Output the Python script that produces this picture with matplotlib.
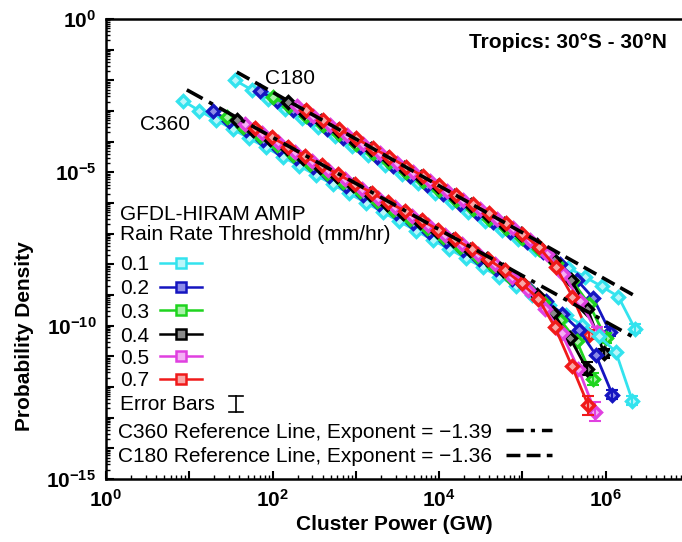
import numpy as np
import matplotlib.pyplot as plt
from matplotlib.lines import Line2D
from matplotlib.ticker import LogLocator, FuncFormatter
from matplotlib.transforms import IdentityTransform

plt.rcParams['font.family'] = ['Liberation Sans', 'DejaVu Sans']
plt.rcParams['mathtext.fontset'] = 'custom'
plt.rcParams['mathtext.rm'] = 'Liberation Sans'
plt.rcParams['mathtext.bf'] = 'Liberation Sans:bold'

thresholds = ['0.1', '0.2', '0.3', '0.4', '0.5', '0.7']
colors = ['#33e3ee', '#1515c0', '#1fd41f', '#000000', '#e040e0', '#f01a1a']
light = ['#b8f6fa', '#8c8ce8', '#a8f0a8', '#8a8a8a', '#f4b0f4', '#f8a8a8']

bin_width = 0.2  # bins are 0.2 decades wide in cluster power

# C180: log10 of first bin (GW) and log10 probability density per bin
c180_start = [1.55, 1.85, 2.00, 2.18, 2.29, 2.40]
c180_01 = [-2.00, -2.31, -2.61, -2.92, -3.22, -3.53, -3.83, -4.14, -4.44, -4.75,
           -5.05, -5.36, -5.66, -5.97, -6.28, -6.58, -6.89, -7.19, -7.50, -7.80,
           -8.11, -8.41, -8.72, -9.05, -10.10]
c180_02 = [-2.36, -2.66, -2.97, -3.27, -3.58, -3.89, -4.19, -4.50, -4.80, -5.11,
           -5.41, -5.72, -6.02, -6.33, -6.63, -6.94, -7.26, -7.60, -8.00, -8.50,
           -9.10, -10.20]
c180_03 = [-2.54, -2.84, -3.15, -3.45, -3.76, -4.06, -4.37, -4.67, -4.98, -5.29,
           -5.59, -5.90, -6.20, -6.51, -6.81, -7.14, -7.50, -7.95, -8.55, -9.30,
           -10.40]
c180_04 = [-2.71, -3.02, -3.32, -3.63, -3.93, -4.24, -4.54, -4.85, -5.16, -5.46,
           -5.77, -6.07, -6.38, -6.68, -7.00, -7.38, -7.85, -8.50, -9.45, -10.90]
c180_05 = [-2.85, -3.16, -3.46, -3.77, -4.07, -4.38, -4.68, -4.99, -5.29, -5.60,
           -5.90, -6.21, -6.51, -6.83, -7.20, -7.65, -8.30, -9.20, -10.20]
c180_07 = [-2.98, -3.28, -3.59, -3.89, -4.20, -4.50, -4.81, -5.12, -5.42, -5.73,
           -6.03, -6.34, -6.66, -7.00, -7.45, -8.08, -9.05, -10.30]
c180_err = [0.15, 0.15, 0.15, 0.15, 0.15, 0.15]

# C360
c360_start = [0.92, 1.28, 1.45, 1.57, 1.67, 1.79]
c360_01 = [-2.66, -2.99, -3.29, -3.59, -3.89, -4.19, -4.49, -4.79, -5.09, -5.39,
           -5.69, -5.99, -6.29, -6.60, -6.90, -7.20, -7.50, -7.80, -8.10, -8.40,
           -8.70, -9.00, -9.32, -9.65, -9.98, -10.35, -10.85, -12.45]
c360_02 = [-3.00, -3.32, -3.63, -3.93, -4.23, -4.53, -4.83, -5.13, -5.43, -5.73,
           -6.03, -6.34, -6.64, -6.94, -7.24, -7.54, -7.84, -8.15, -8.47, -8.82,
           -9.20, -9.62, -10.15, -10.95, -12.25]
c360_03 = [-3.20, -3.51, -3.81, -4.11, -4.42, -4.72, -5.02, -5.32, -5.62, -5.92,
           -6.22, -6.52, -6.82, -7.12, -7.42, -7.74, -8.06, -8.40, -8.78, -9.22,
           -9.80, -10.50, -11.75]
c360_04 = [-3.30, -3.61, -3.91, -4.21, -4.52, -4.82, -5.12, -5.42, -5.72, -6.02,
           -6.32, -6.62, -6.92, -7.22, -7.52, -7.84, -8.18, -8.55, -9.00, -9.60,
           -10.40, -11.40]
c360_05 = [-3.42, -3.72, -4.02, -4.33, -4.63, -4.93, -5.23, -5.53, -5.83, -6.13,
           -6.43, -6.73, -7.03, -7.34, -7.66, -8.00, -8.40, -8.85, -9.45, -10.25,
           -11.40, -12.80]
c360_07 = [-3.56, -3.86, -4.16, -4.47, -4.77, -5.07, -5.37, -5.67, -5.97, -6.27,
           -6.57, -6.87, -7.18, -7.50, -7.84, -8.20, -8.62, -9.12, -10.05, -11.30,
           -12.60]
c360_err = [0.15, 0.15, 0.2, 0.2, 0.3, 0.3]

# reference power-law lines (log10 end points)
c360_ref_lx = [0.97, 6.35]
c360_ref_ly = [-2.31, -10.40]
c180_ref_lx = [1.57, 6.37]
c180_ref_ly = [-1.73, -9.06]

W, H = 682, 542
fig = plt.figure(figsize=(W / 100, H / 100), dpi=100)
ax = fig.add_axes([106 / W, 63 / H, 576 / W, 460 / H])
ax.set_xscale('log')
ax.set_yscale('log')

groups = [(c180_start, [c180_01, c180_02, c180_03, c180_04, c180_05, c180_07], c180_err),
          (c360_start, [c360_01, c360_02, c360_03, c360_04, c360_05, c360_07], c360_err)]
for starts, runs, errs in groups:
    for x0, ly, e, col, lt in zip(starts, runs, errs, colors, light):
        x = 10 ** (x0 + bin_width * np.arange(len(ly)))
        y = 10 ** np.array(ly)
        ax.plot(x, y, '-', color=col, lw=2, marker='D', ms=6.5, mfc=lt, mec=col,
                mew=2.4, zorder=3)
        ax.errorbar(x[-1], y[-1], yerr=[[y[-1] - y[-1] * 10 ** -e], [y[-1] * 10 ** e - y[-1]]],
                    fmt='none', ecolor=col, elinewidth=1.5, capsize=4, capthick=1.5, zorder=3)

ax.plot(10 ** np.array(c360_ref_lx), 10 ** np.array(c360_ref_ly), color='k', lw=2.6,
        ls=(0, (5, 2, 1.2, 2)), zorder=5)
ax.plot(10 ** np.array(c180_ref_lx), 10 ** np.array(c180_ref_ly), color='k', lw=2.6,
        ls=(0, (4, 1.8)), zorder=5)

ax.set_xlim(1, 10 ** 6.915)
ax.set_ylim(1e-15, 1)


def fmt(step):
    def f(v, pos):
        p = int(round(np.log10(v)))
        return r'$\mathbf{10^{%d}}$' % p if p % step == 0 else ''
    return f


for axis, step in [(ax.xaxis, 2), (ax.yaxis, 5)]:
    axis.set_major_locator(LogLocator(base=10, numticks=30))
    axis.set_minor_locator(LogLocator(base=10, subs=np.arange(2, 10), numticks=300))
    axis.set_major_formatter(FuncFormatter(fmt(step)))
ax.tick_params(which='major', direction='in', length=6, width=1.5, labelsize=15, pad=7,
               top=False, right=False)
ax.tick_params(which='minor', direction='in', length=3, width=1, top=False, right=False)
ax.yaxis.set_minor_formatter(FuncFormatter(lambda v, p: ''))
ax.xaxis.set_minor_formatter(FuncFormatter(lambda v, p: ''))
for s in ['left', 'bottom', 'top']:
    ax.spines[s].set_linewidth(1.8)
ax.spines['right'].set_visible(False)

ident = IdentityTransform()


def txt(x, y, s, **kw):
    return fig.text(x, H - y, s, transform=ident, fontsize=15, va='center_baseline', **kw)


txt(394, 522, 'Cluster Power (GW)', ha='center', fontweight='bold')
txt(25, 249, 'Probability Density', ha='center', fontweight='bold', rotation=90)
txt(667, 41, 'Tropics: 30°S - 30°N', ha='right', fontweight='bold')
txt(290, 77, 'C180', ha='center')
txt(165, 123, 'C360', ha='center')

# legend, drawn by hand so each handle follows its text
r = fig.canvas.get_renderer()
txt(120, 213, 'GFDL-HIRAM AMIP')
txt(120, 233, 'Rain Rate Threshold (mm/hr)')
rows = [263, 287, 310, 334, 356, 379]
for yy, lab, col, lt in zip(rows, thresholds, colors, light):
    t = txt(120, yy, lab)
    x1 = t.get_window_extent(renderer=r).x1
    fig.add_artist(Line2D([x1 + 11, x1 + 53], [H - yy, H - yy], transform=ident,
                          color=col, lw=1.8))
    fig.add_artist(Line2D([x1 + 32], [H - yy], transform=ident, marker='s', ms=7,
                          mfc=lt, mec=col, mew=1.8))

t = txt(120, 403, 'Error Bars')
x1 = t.get_window_extent(renderer=r).x1 + 21
fig.add_artist(Line2D([x1, x1], [H - 396, H - 412], transform=ident, color='k', lw=1.2))
for cy in [396, 412]:
    fig.add_artist(Line2D([x1 - 7, x1 + 7], [H - cy, H - cy], transform=ident, color='k', lw=1.2))

for yy, lab, ls in [(430, 'C360 Reference Line, Exponent = \u22121.39', (0, (5, 2, 1.2, 2))),
                    (455, 'C180 Reference Line, Exponent = \u22121.36', (0, (4, 1.8)))]:
    t = txt(118, yy, lab)
    x1 = t.get_window_extent(renderer=r).x1
    fig.add_artist(Line2D([x1 + 14, x1 + 60], [H - yy, H - yy], transform=ident,
                          color='k', lw=2.5, ls=ls))

fig.savefig('out.png', dpi=100)
